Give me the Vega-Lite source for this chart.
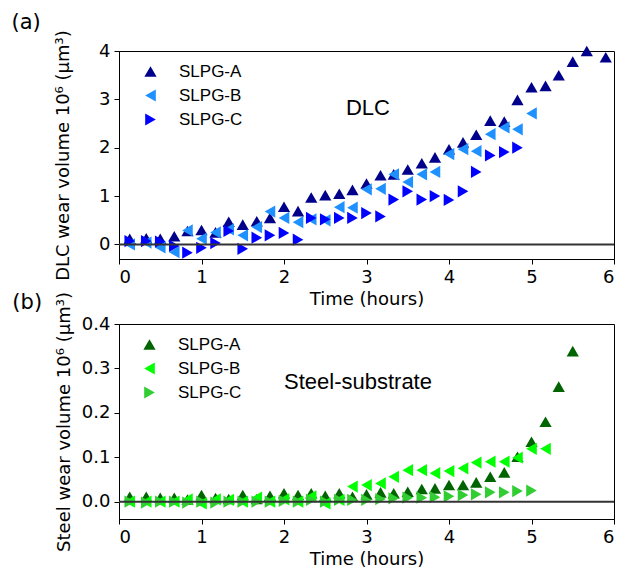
{
 "$schema": "https://vega.github.io/schema/vega-lite/v6.json",
 "background": "white",
 "padding": {"left": 11, "top": 11, "right": 5, "bottom": 5},
 "datasets": {
  "pts": [
   {"p":"a","s":"SLPG-A","t":0.13,"v":0.12},{"p":"a","s":"SLPG-A","t":0.33,"v":0.13},{"p":"a","s":"SLPG-A","t":0.5,"v":0.12},{"p":"a","s":"SLPG-A","t":0.67,"v":0.17},{"p":"a","s":"SLPG-A","t":0.83,"v":0.28},{"p":"a","s":"SLPG-A","t":1.0,"v":0.30},{"p":"a","s":"SLPG-A","t":1.17,"v":0.25},{"p":"a","s":"SLPG-A","t":1.33,"v":0.47},{"p":"a","s":"SLPG-A","t":1.5,"v":0.41},{"p":"a","s":"SLPG-A","t":1.67,"v":0.48},{"p":"a","s":"SLPG-A","t":1.83,"v":0.55},{"p":"a","s":"SLPG-A","t":2.0,"v":0.78},{"p":"a","s":"SLPG-A","t":2.17,"v":0.69},{"p":"a","s":"SLPG-A","t":2.33,"v":0.97},{"p":"a","s":"SLPG-A","t":2.5,"v":1.02},{"p":"a","s":"SLPG-A","t":2.67,"v":1.05},{"p":"a","s":"SLPG-A","t":2.83,"v":1.13},{"p":"a","s":"SLPG-A","t":3.0,"v":1.26},{"p":"a","s":"SLPG-A","t":3.17,"v":1.43},{"p":"a","s":"SLPG-A","t":3.33,"v":1.45},{"p":"a","s":"SLPG-A","t":3.5,"v":1.55},{"p":"a","s":"SLPG-A","t":3.67,"v":1.68},{"p":"a","s":"SLPG-A","t":3.83,"v":1.80},{"p":"a","s":"SLPG-A","t":4.0,"v":1.97},{"p":"a","s":"SLPG-A","t":4.17,"v":2.11},{"p":"a","s":"SLPG-A","t":4.33,"v":2.27},{"p":"a","s":"SLPG-A","t":4.5,"v":2.56},{"p":"a","s":"SLPG-A","t":4.67,"v":2.54},{"p":"a","s":"SLPG-A","t":4.83,"v":2.99},{"p":"a","s":"SLPG-A","t":5.0,"v":3.25},{"p":"a","s":"SLPG-A","t":5.17,"v":3.28},{"p":"a","s":"SLPG-A","t":5.33,"v":3.50},{"p":"a","s":"SLPG-A","t":5.5,"v":3.78},{"p":"a","s":"SLPG-A","t":5.67,"v":4.0},{"p":"a","s":"SLPG-A","t":5.9,"v":3.87},
   {"p":"a","s":"SLPG-B","t":0.13,"v":0.0},{"p":"a","s":"SLPG-B","t":0.33,"v":0.04},{"p":"a","s":"SLPG-B","t":0.5,"v":-0.06},{"p":"a","s":"SLPG-B","t":0.67,"v":-0.16},{"p":"a","s":"SLPG-B","t":0.83,"v":0.29},{"p":"a","s":"SLPG-B","t":1.0,"v":0.12},{"p":"a","s":"SLPG-B","t":1.17,"v":0.25},{"p":"a","s":"SLPG-B","t":1.33,"v":0.31},{"p":"a","s":"SLPG-B","t":1.5,"v":0.19},{"p":"a","s":"SLPG-B","t":1.67,"v":0.36},{"p":"a","s":"SLPG-B","t":1.83,"v":0.68},{"p":"a","s":"SLPG-B","t":2.0,"v":0.55},{"p":"a","s":"SLPG-B","t":2.17,"v":0.46},{"p":"a","s":"SLPG-B","t":2.33,"v":0.52},{"p":"a","s":"SLPG-B","t":2.5,"v":0.50},{"p":"a","s":"SLPG-B","t":2.67,"v":0.77},{"p":"a","s":"SLPG-B","t":2.83,"v":0.76},{"p":"a","s":"SLPG-B","t":3.0,"v":1.14},{"p":"a","s":"SLPG-B","t":3.17,"v":1.15},{"p":"a","s":"SLPG-B","t":3.33,"v":1.45},{"p":"a","s":"SLPG-B","t":3.5,"v":1.29},{"p":"a","s":"SLPG-B","t":3.67,"v":1.45},{"p":"a","s":"SLPG-B","t":3.83,"v":1.50},{"p":"a","s":"SLPG-B","t":4.0,"v":1.87},{"p":"a","s":"SLPG-B","t":4.17,"v":1.97},{"p":"a","s":"SLPG-B","t":4.33,"v":1.93},{"p":"a","s":"SLPG-B","t":4.5,"v":2.28},{"p":"a","s":"SLPG-B","t":4.67,"v":2.42},{"p":"a","s":"SLPG-B","t":4.83,"v":2.38},{"p":"a","s":"SLPG-B","t":5.0,"v":2.71},
   {"p":"a","s":"SLPG-C","t":0.13,"v":0.07},{"p":"a","s":"SLPG-C","t":0.33,"v":0.07},{"p":"a","s":"SLPG-C","t":0.5,"v":0.06},{"p":"a","s":"SLPG-C","t":0.67,"v":-0.03},{"p":"a","s":"SLPG-C","t":0.83,"v":-0.17},{"p":"a","s":"SLPG-C","t":1.0,"v":-0.07},{"p":"a","s":"SLPG-C","t":1.17,"v":0.03},{"p":"a","s":"SLPG-C","t":1.33,"v":0.28},{"p":"a","s":"SLPG-C","t":1.5,"v":-0.09},{"p":"a","s":"SLPG-C","t":1.67,"v":0.14},{"p":"a","s":"SLPG-C","t":1.83,"v":0.19},{"p":"a","s":"SLPG-C","t":2.0,"v":0.24},{"p":"a","s":"SLPG-C","t":2.17,"v":0.10},{"p":"a","s":"SLPG-C","t":2.33,"v":0.55},{"p":"a","s":"SLPG-C","t":2.5,"v":0.52},{"p":"a","s":"SLPG-C","t":2.67,"v":0.55},{"p":"a","s":"SLPG-C","t":2.83,"v":0.55},{"p":"a","s":"SLPG-C","t":3.0,"v":0.65},{"p":"a","s":"SLPG-C","t":3.17,"v":0.58},{"p":"a","s":"SLPG-C","t":3.33,"v":0.93},{"p":"a","s":"SLPG-C","t":3.5,"v":1.10},{"p":"a","s":"SLPG-C","t":3.67,"v":0.93},{"p":"a","s":"SLPG-C","t":3.83,"v":1.0},{"p":"a","s":"SLPG-C","t":4.0,"v":0.92},{"p":"a","s":"SLPG-C","t":4.17,"v":1.10},{"p":"a","s":"SLPG-C","t":4.33,"v":1.50},{"p":"a","s":"SLPG-C","t":4.5,"v":1.84},{"p":"a","s":"SLPG-C","t":4.67,"v":1.91},{"p":"a","s":"SLPG-C","t":4.83,"v":2.0},
   {"p":"b","s":"SLPG-A","t":0.13,"v":0.011},{"p":"b","s":"SLPG-A","t":0.33,"v":0.011},{"p":"b","s":"SLPG-A","t":0.5,"v":0.009},{"p":"b","s":"SLPG-A","t":0.67,"v":0.009},{"p":"b","s":"SLPG-A","t":0.83,"v":0.005},{"p":"b","s":"SLPG-A","t":1.0,"v":0.015},{"p":"b","s":"SLPG-A","t":1.17,"v":0.008},{"p":"b","s":"SLPG-A","t":1.33,"v":0.006},{"p":"b","s":"SLPG-A","t":1.5,"v":0.015},{"p":"b","s":"SLPG-A","t":1.67,"v":0.006},{"p":"b","s":"SLPG-A","t":1.83,"v":0.0135},{"p":"b","s":"SLPG-A","t":2.0,"v":0.019},{"p":"b","s":"SLPG-A","t":2.17,"v":0.015},{"p":"b","s":"SLPG-A","t":2.33,"v":0.019},{"p":"b","s":"SLPG-A","t":2.5,"v":0.0135},{"p":"b","s":"SLPG-A","t":2.67,"v":0.019},{"p":"b","s":"SLPG-A","t":2.83,"v":0.011},{"p":"b","s":"SLPG-A","t":3.0,"v":0.0165},{"p":"b","s":"SLPG-A","t":3.17,"v":0.021},{"p":"b","s":"SLPG-A","t":3.33,"v":0.019},{"p":"b","s":"SLPG-A","t":3.5,"v":0.0225},{"p":"b","s":"SLPG-A","t":3.67,"v":0.0285},{"p":"b","s":"SLPG-A","t":3.83,"v":0.03},{"p":"b","s":"SLPG-A","t":4.0,"v":0.0375},{"p":"b","s":"SLPG-A","t":4.17,"v":0.0375},{"p":"b","s":"SLPG-A","t":4.33,"v":0.0435},{"p":"b","s":"SLPG-A","t":4.5,"v":0.056},{"p":"b","s":"SLPG-A","t":4.67,"v":0.066},{"p":"b","s":"SLPG-A","t":4.83,"v":0.101},{"p":"b","s":"SLPG-A","t":5.0,"v":0.135},{"p":"b","s":"SLPG-A","t":5.17,"v":0.18},{"p":"b","s":"SLPG-A","t":5.33,"v":0.259},{"p":"b","s":"SLPG-A","t":5.5,"v":0.339},
   {"p":"b","s":"SLPG-B","t":0.13,"v":0.0},{"p":"b","s":"SLPG-B","t":0.33,"v":0.0},{"p":"b","s":"SLPG-B","t":0.5,"v":0.0},{"p":"b","s":"SLPG-B","t":0.67,"v":0.0},{"p":"b","s":"SLPG-B","t":0.83,"v":0.005},{"p":"b","s":"SLPG-B","t":1.0,"v":-0.004},{"p":"b","s":"SLPG-B","t":1.17,"v":0.005},{"p":"b","s":"SLPG-B","t":1.33,"v":0.004},{"p":"b","s":"SLPG-B","t":1.5,"v":0.0},{"p":"b","s":"SLPG-B","t":1.67,"v":0.009},{"p":"b","s":"SLPG-B","t":1.83,"v":0.0},{"p":"b","s":"SLPG-B","t":2.0,"v":0.005},{"p":"b","s":"SLPG-B","t":2.17,"v":0.0},{"p":"b","s":"SLPG-B","t":2.33,"v":0.012},{"p":"b","s":"SLPG-B","t":2.5,"v":-0.004},{"p":"b","s":"SLPG-B","t":2.67,"v":0.004},{"p":"b","s":"SLPG-B","t":2.83,"v":0.034},{"p":"b","s":"SLPG-B","t":3.0,"v":0.0375},{"p":"b","s":"SLPG-B","t":3.17,"v":0.041},{"p":"b","s":"SLPG-B","t":3.33,"v":0.056},{"p":"b","s":"SLPG-B","t":3.5,"v":0.071},{"p":"b","s":"SLPG-B","t":3.67,"v":0.071},{"p":"b","s":"SLPG-B","t":3.83,"v":0.064},{"p":"b","s":"SLPG-B","t":4.0,"v":0.069},{"p":"b","s":"SLPG-B","t":4.17,"v":0.075},{"p":"b","s":"SLPG-B","t":4.33,"v":0.088},{"p":"b","s":"SLPG-B","t":4.5,"v":0.09},{"p":"b","s":"SLPG-B","t":4.67,"v":0.09},{"p":"b","s":"SLPG-B","t":4.83,"v":0.099},{"p":"b","s":"SLPG-B","t":5.0,"v":0.119},{"p":"b","s":"SLPG-B","t":5.17,"v":0.119},
   {"p":"b","s":"SLPG-C","t":0.13,"v":0.0},{"p":"b","s":"SLPG-C","t":0.33,"v":-0.002},{"p":"b","s":"SLPG-C","t":0.5,"v":0.0},{"p":"b","s":"SLPG-C","t":0.67,"v":0.0},{"p":"b","s":"SLPG-C","t":0.83,"v":-0.002},{"p":"b","s":"SLPG-C","t":1.0,"v":0.0},{"p":"b","s":"SLPG-C","t":1.17,"v":-0.002},{"p":"b","s":"SLPG-C","t":1.33,"v":0.0},{"p":"b","s":"SLPG-C","t":1.5,"v":0.0},{"p":"b","s":"SLPG-C","t":1.67,"v":0.0},{"p":"b","s":"SLPG-C","t":1.83,"v":0.0},{"p":"b","s":"SLPG-C","t":2.0,"v":0.002},{"p":"b","s":"SLPG-C","t":2.17,"v":0.0},{"p":"b","s":"SLPG-C","t":2.33,"v":0.004},{"p":"b","s":"SLPG-C","t":2.5,"v":0.0},{"p":"b","s":"SLPG-C","t":2.67,"v":0.004},{"p":"b","s":"SLPG-C","t":2.83,"v":0.004},{"p":"b","s":"SLPG-C","t":3.0,"v":0.004},{"p":"b","s":"SLPG-C","t":3.17,"v":0.006},{"p":"b","s":"SLPG-C","t":3.33,"v":0.0075},{"p":"b","s":"SLPG-C","t":3.5,"v":0.009},{"p":"b","s":"SLPG-C","t":3.67,"v":0.009},{"p":"b","s":"SLPG-C","t":3.83,"v":0.01},{"p":"b","s":"SLPG-C","t":4.0,"v":0.012},{"p":"b","s":"SLPG-C","t":4.17,"v":0.015},{"p":"b","s":"SLPG-C","t":4.33,"v":0.0165},{"p":"b","s":"SLPG-C","t":4.5,"v":0.021},{"p":"b","s":"SLPG-C","t":4.67,"v":0.021},{"p":"b","s":"SLPG-C","t":4.83,"v":0.024},{"p":"b","s":"SLPG-C","t":5.0,"v":0.025}
  ]
 },
 "bounds": "flush",
 "spacing": 65,
 "resolve": {"scale": {"color": "independent", "shape": "independent"}, "legend": {"color": "independent", "shape": "independent"}},
 "vconcat": [
  {
   "width": 495, "height": 208,
   "title": {"text": "(a)", "anchor": "start", "frame": "bounds", "fontSize": 21, "font": "DejaVu Sans", "fontWeight": "normal", "color": "black", "dx": -43, "offset": -3},
   "layer": [
    {
     "data": {"name": "pts"},
     "transform": [{"filter": "datum.p == 'a'"}],
     "mark": {"type": "point", "filled": true, "size": 150, "opacity": 1},
     "encoding": {
      "x": {"field": "t", "type": "quantitative", "scale": {"domain": [0, 6], "nice": false, "zero": false}, "axis": {"values": [0,1,2,3,4,5,6], "format": "d", "title": "Time (hours)", "titlePadding": 4}},
      "y": {"field": "v", "type": "quantitative", "scale": {"domain": [-0.3, 4], "nice": false, "zero": false}, "axis": {"values": [0,1,2,3,4], "format": "d", "title": "DLC wear volume 10⁶ (µm³)", "titlePadding": 26}},
      "color": {"field": "s", "type": "nominal", "scale": {"domain": ["SLPG-A","SLPG-B","SLPG-C"], "range": ["#00008B","#1E90FF","#0000FF"]}, "legend": {"title": null, "orient": "none", "legendX": 23, "legendY": 12}},
      "shape": {"field": "s", "type": "nominal", "scale": {"domain": ["SLPG-A","SLPG-B","SLPG-C"], "range": ["triangle-up","triangle-left","triangle-right"]}, "legend": {"title": null, "orient": "none", "legendX": 23, "legendY": 12}}
     }
    },
    {
     "data": {"values": [{}]},
     "mark": {"type": "rule", "color": "#333333", "strokeWidth": 2},
     "encoding": {"y": {"datum": 0}}
    },
    {
     "data": {"values": [{}]},
     "mark": {"type": "text", "font": "Liberation Sans", "fontSize": 22, "align": "left", "baseline": "middle", "color": "black"},
     "encoding": {"x": {"datum": 2.75}, "y": {"datum": 2.82}, "text": {"value": "DLC"}}
    }
   ]
  },
  {
   "width": 495, "height": 195,
   "title": {"text": "(b)", "anchor": "start", "frame": "bounds", "fontSize": 21, "font": "DejaVu Sans", "fontWeight": "normal", "color": "black", "dx": -43, "offset": -21},
   "layer": [
    {
     "data": {"name": "pts"},
     "transform": [{"filter": "datum.p == 'b'"}],
     "mark": {"type": "point", "filled": true, "size": 150, "opacity": 1},
     "encoding": {
      "x": {"field": "t", "type": "quantitative", "scale": {"domain": [0, 6], "nice": false, "zero": false}, "axis": {"values": [0,1,2,3,4,5,6], "format": "d", "title": "Time (hours)", "titlePadding": 4}},
      "y": {"field": "v", "type": "quantitative", "scale": {"domain": [-0.039, 0.4], "nice": false, "zero": false}, "axis": {"values": [0,0.1,0.2,0.3,0.4], "format": ".1f", "title": "Steel wear volume 10⁶ (µm³)", "titlePadding": 8}},
      "color": {"field": "s", "type": "nominal", "scale": {"domain": ["SLPG-A","SLPG-B","SLPG-C"], "range": ["#006400","#00FF00","#32CD32"]}, "legend": {"title": null, "orient": "none", "legendX": 22, "legendY": 12}},
      "shape": {"field": "s", "type": "nominal", "scale": {"domain": ["SLPG-A","SLPG-B","SLPG-C"], "range": ["triangle-up","triangle-left","triangle-right"]}, "legend": {"title": null, "orient": "none", "legendX": 22, "legendY": 12}}
     }
    },
    {
     "data": {"values": [{}]},
     "mark": {"type": "rule", "color": "#333333", "strokeWidth": 2},
     "encoding": {"y": {"datum": 0}}
    },
    {
     "data": {"values": [{}]},
     "mark": {"type": "text", "font": "Liberation Sans", "fontSize": 22, "align": "left", "baseline": "middle", "color": "black"},
     "encoding": {"x": {"datum": 2.0}, "y": {"datum": 0.27}, "text": {"value": "Steel-substrate"}}
    }
   ]
  }
 ],
 "config": {
  "view": {"stroke": "black", "strokeWidth": 1},
  "axis": {"grid": false, "labelFont": "DejaVu Sans", "labelFontSize": 18, "labelColor": "black", "titleFont": "DejaVu Sans", "titleFontSize": 18, "titleFontWeight": "normal", "titleColor": "black", "tickColor": "black", "domainColor": "black", "tickSize": 5, "labelPadding": 4},
  "legend": {"labelFont": "Liberation Sans", "labelFontSize": 17, "labelColor": "black", "symbolSize": 150, "symbolStrokeWidth": 0, "symbolOpacity": 1, "labelOffset": 20, "rowPadding": 6, "padding": 0}
 }
}
